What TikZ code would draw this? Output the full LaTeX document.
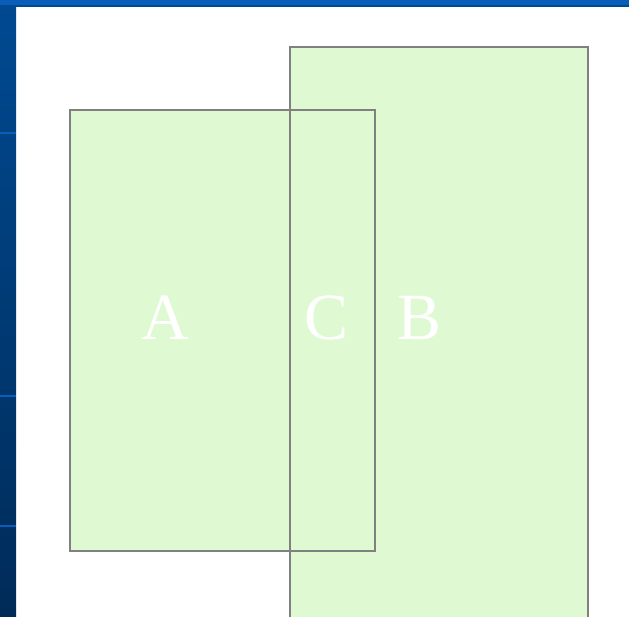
\documentclass[tikz,border=0pt]{standalone}
\usepackage{fontspec}
\setmainfont{Liberation Serif}
\usepackage{tikz}
\usetikzlibrary{positioning}

\definecolor{setfill}{HTML}{DFFAD3}
\definecolor{setline}{HTML}{808080}
\definecolor{bardark}{HTML}{002B58}
\definecolor{barmid}{HTML}{004A92}
\definecolor{barlight}{HTML}{0A5DB8}

\begin{document}
\begin{tikzpicture}[
        x=1pt, y=-1pt,
        set/.style={rectangle, fill=setfill, inner sep=0pt},
        rim/.style={draw=setline, line width=2pt},
        lab/.style={text=white, font=\fontsize{66}{66}\selectfont, inner sep=0pt}
    ]
        \useasboundingbox (0,0) rectangle (629,616);
        \clip (0,0) rectangle (629,616);

        % Frame
        \shade[top color=barmid, bottom color=bardark] (0,0) rectangle (16,616);
        \fill[barlight] (0,0) rectangle (629,5);
        \fill[barmid] (16,5) rectangle (629,7);
        \foreach \yy in {132,395,525} {
            \fill[barlight] (0,\yy) rectangle (16,\yy+2);
        }

        % Nodes
        \node (setB) [set, minimum width=298pt, minimum height=593pt] at (439,343.5) {};
        \node (setA) [set, minimum width=305pt, minimum height=441pt] at (222.5,330.5) {};
        \draw [rim] (setB.north west) rectangle (setB.south east);
        \draw [rim] (setA.north west) rectangle (setA.south east);

        % Labels
        \node (labA) [lab] at (165,318) {A};
        \node (labC) [lab] at (327,318) {C};
        \node (labB) [lab] at (420,318) {B};
    \end{tikzpicture}
\end{document}
